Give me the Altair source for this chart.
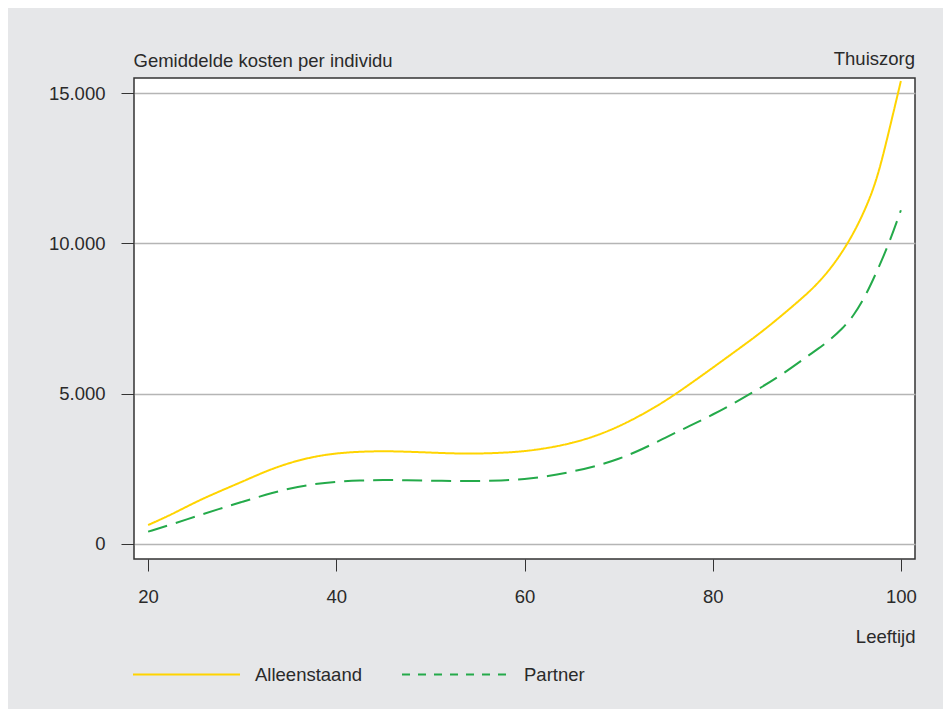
import altair as alt
import pandas as pd

# ---- data ----
ages = [20, 22.5, 25, 27.5, 30, 32.5, 35, 37.5, 40, 42.5, 45, 47.5, 50, 52.5, 55, 57.5,
        60, 62.5, 65, 67.5, 70, 72.5, 75, 77.5, 80, 82.5, 85, 87.5, 90, 91.25, 92.5, 93.75,
        95, 96.25, 97.5, 98.75, 100]
alleenstaand = [630, 980, 1390, 1740, 2070, 2420, 2700, 2900, 3020, 3070, 3090, 3070,
                3040, 3010, 3005, 3030, 3080, 3190, 3350, 3580, 3900, 4300, 4760, 5300,
                5860, 6430, 7000, 7640, 8310, 8700, 9150, 9700, 10350, 11150, 12150,
                13750, 15400]
partner = [410, 650, 910, 1160, 1400, 1640, 1850, 1990, 2070, 2115, 2130, 2120, 2105,
           2095, 2095, 2110, 2150, 2250, 2400, 2580, 2820, 3150, 3540, 3920, 4300, 4720,
           5180, 5660, 6230, 6500, 6800, 7150, 7600, 8250, 9100, 10000, 11100]
series = ["Alleenstaand", "Partner"]
colors = ["#FFD400", "#24AA4A"]
y_ticks = [0, 5000, 10000, 15000]
x_ticks = [20, 40, 60, 80, 100]

df = pd.concat([
    pd.DataFrame({"Leeftijd": ages, "Kosten": alleenstaand, "Groep": series[0]}),
    pd.DataFrame({"Leeftijd": ages, "Kosten": partner, "Groep": series[1]}),
])

FONT = "Liberation Sans, Arial, sans-serif"
TXT = "#2a2a2a"
FS = 18.5

legend = alt.Legend(
    title=None, orient="none", direction="horizontal", legendX=-2, legendY=542,
    symbolType="stroke", symbolSize=11449, symbolStrokeWidth=2, labelOffset=14,
    columnPadding=36, padding=0, labelFont=FONT, labelFontSize=FS, labelColor=TXT,
    labelBaseline="middle",
)

xscale = alt.Scale(domain=[18.5, 101.5], nice=False, zero=False)
yscale = alt.Scale(domain=[-500, 15500], nice=False, zero=False)

lines = alt.Chart(df).mark_line(strokeWidth=2, interpolate="basis").encode(
    x=alt.X("Leeftijd:Q", scale=xscale,
            axis=alt.Axis(values=x_ticks, title="Leeftijd", titleX=781, titleY=83,
                          titleAlign="right", titleBaseline="alphabetic",
                          titleFont=FONT, titleFontSize=FS, titleFontWeight="normal",
                          titleColor=TXT, grid=False, domain=False, tickSize=12,
                          tickColor="#333333", labelPadding=16, labelFont=FONT,
                          labelFontSize=FS, labelColor=TXT)),
    y=alt.Y("Kosten:Q", scale=yscale,
            axis=alt.Axis(values=y_ticks, title="Gemiddelde kosten per individu",
                          titleAngle=0, titleX=-1, titleY=-12, titleAlign="left",
                          titleBaseline="alphabetic", titleFont=FONT, titleFontSize=FS,
                          titleFontWeight="normal", titleColor=TXT,
                          labelExpr="replace(format(datum.value, ','), ',', '.')",
                          grid=True, gridColor="#b5b5b5", gridWidth=1.6,
                          domain=False, tickSize=13, tickColor="#333333",
                          labelPadding=16, labelFont=FONT, labelFontSize=FS,
                          labelColor=TXT)),
    color=alt.Color("Groep:N", scale=alt.Scale(domain=series, range=colors), legend=None),
    strokeDash=alt.StrokeDash("Groep:N",
                              scale=alt.Scale(domain=series, range=[[1, 0], [20, 9]]),
                              legend=None),
)

# one-point lines draw nothing; this layer only supplies the legend (with its dash style)
key = alt.Chart(df).transform_filter(alt.datum.Leeftijd == 20).mark_line(
    strokeWidth=2
).encode(
    x=alt.X("Leeftijd:Q", scale=xscale),
    y=alt.Y("Kosten:Q", scale=yscale),
    color=alt.Color("Groep:N", scale=alt.Scale(domain=series, range=colors), legend=legend),
    strokeDash=alt.StrokeDash("Groep:N",
                              scale=alt.Scale(domain=series, range=[[1, 0], [8, 8]]),
                              legend=legend),
)

label = alt.Chart(pd.DataFrame({"t": ["Thuiszorg"]})).mark_text(
    font=FONT, fontSize=FS, color=TXT, align="right", baseline="alphabetic"
).encode(text="t:N", x=alt.value(781), y=alt.value(-13))

chart = alt.layer(lines, key, label).resolve_scale(
    strokeDash="independent", color="independent"
).properties(
    width=781, height=481,
    autosize=alt.AutoSizeParams(type="none"),
    padding={"left": 126, "top": 70, "right": 28, "bottom": 150},
    background="#e6e7e9",
).configure_view(
    stroke="#333333", strokeWidth=1.5, fill="white"
)

chart.save("out.html", embed_options={"renderer": "svg", "actions": False})
